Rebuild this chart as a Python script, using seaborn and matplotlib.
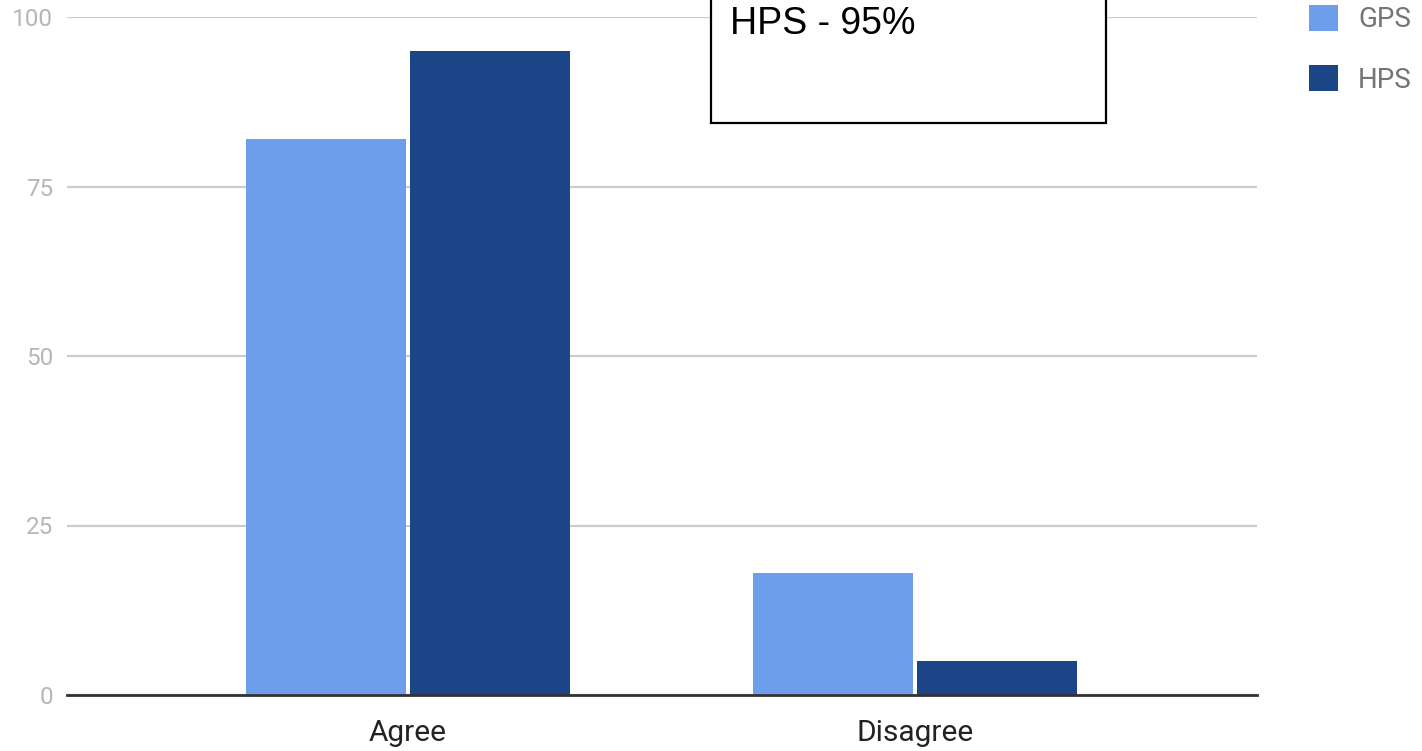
import matplotlib
matplotlib.use("Agg")
import matplotlib.pyplot as plt
from matplotlib.patches import Rectangle, Patch
import seaborn as sns
import pandas as pd

# Survey responses (% of respondents)
categories = ["Agree", "Disagree"]
gps_values = [82, 18]
hps_values = [95, 5]
series_names = ["GPS", "HPS"]
y_ticks = [0, 25, 50, 75, 100]
note_text = "HPS - 95%"

colors = {"GPS": "#6d9eeb", "HPS": "#1c4587"}

df = pd.DataFrame({
    "response": categories * 2,
    "group": [series_names[0]] * len(categories) + [series_names[1]] * len(categories),
    "value": gps_values + hps_values,
})

sns.set_theme(style="white")
plt.rcParams["font.family"] = ["Roboto", "DejaVu Sans"]

W, H = 1422, 751
fig = plt.figure(figsize=(W / 100, H / 100), dpi=100)
ax = fig.add_axes([67 / W, (H - 695) / H, (1257 - 67) / W, (695 - 17) / H])

sns.barplot(data=df, x="response", y="value", hue="group", palette=colors,
            order=categories, hue_order=series_names, width=0.645, gap=0.02,
            saturation=1, errorbar=None, ax=ax, legend=False, linewidth=0)

ax.set_xlim(-0.6726, 1.6746)
ax.set_ylim(0, 100)
ax.set_yticks(y_ticks)
ax.set_yticklabels([str(t) for t in y_ticks])
ax.yaxis.grid(True, color="#cccccc", linewidth=1.6)
ax.set_axisbelow(True)
ax.set_xlabel("")
ax.set_ylabel("")
for side in ["top", "right", "left"]:
    ax.spines[side].set_visible(False)
ax.spines["bottom"].set_color("#333333")
ax.spines["bottom"].set_linewidth(2)
ax.tick_params(axis="y", length=0, pad=10, labelsize=17.5, labelcolor="#b7b7b7")
ax.tick_params(axis="x", length=0, pad=17, labelsize=21.5, labelcolor="#222222")

# Legend in the right margin
handles = [Patch(facecolor=colors[s], edgecolor="none", label=s) for s in series_names]
leg = fig.legend(handles=handles, loc="upper left", bbox_to_anchor=(1309 / W, 1 - 5 / H),
                 frameon=False, fontsize=20, handlelength=1.05, handleheight=1.05,
                 handletextpad=0.72, labelspacing=1.15, borderpad=0, borderaxespad=0)
for t in leg.get_texts():
    t.set_color("#757575")

# Annotation box overlapping the top of the plot
fig.patches.append(Rectangle((711 / W, (H - 123) / H), (1106 - 711) / W, 140 / H,
                             transform=fig.transFigure, facecolor="white",
                             edgecolor="black", linewidth=1.6, zorder=5))
fig.text(730 / W, 1 - 6 / H, note_text, ha="left", va="top", fontsize=27,
         family=["Liberation Sans", "DejaVu Sans"], color="black", zorder=6)

fig.savefig("out.png", dpi=100)
